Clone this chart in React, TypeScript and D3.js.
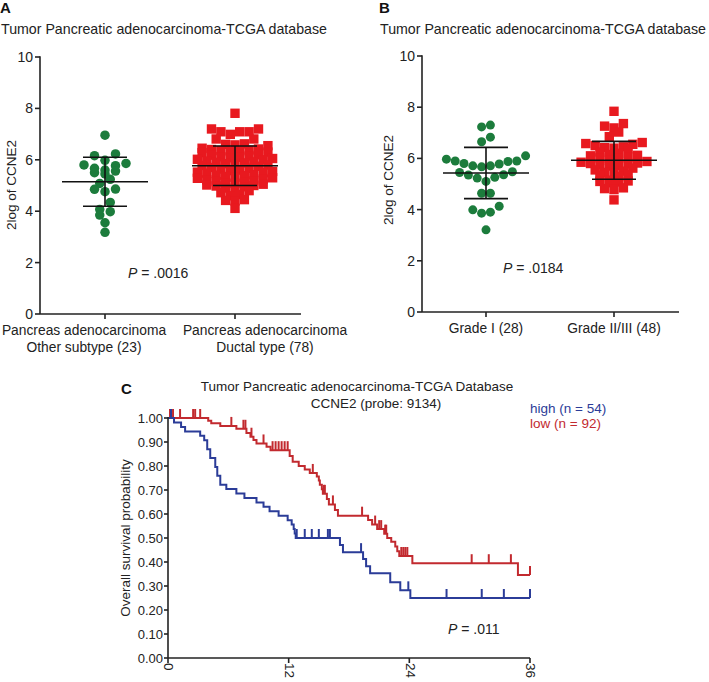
import React from 'react';
import * as d3 from 'd3';

const FONT = "'Liberation Sans', Arial, Helvetica, sans-serif";
const GREEN = '#1c7c3c';
const RED = '#e8191f';
const KM_BLUE = '#2b3c98';
const KM_RED = '#c22a2f';

// Panel A: CCNE2 by histological subtype
const aCategories = [
  ['Pancreas adenocarcinoma', 'Other subtype (23)'],
  ['Pancreas adenocarcinoma', 'Ductal type (78)'],
];
const aOtherSubtype = [
  6.96, 6.23, 6.16, 5.98, 5.80, 5.77, 5.86, 5.56, 5.45, 5.67, 5.50, 5.60,
  5.24, 5.08, 4.86, 4.76, 4.85, 4.34, 3.98, 4.07, 3.85, 3.55, 3.18,
];
const aDuctalType = [
  7.81, 7.20, 7.20, 7.09, 7.09, 7.09, 6.99, 6.81, 6.81, 6.62, 6.60, 6.58, 6.55,
  6.45, 6.42, 6.40, 6.38, 6.36, 6.34, 6.32, 6.30, 6.28,
  6.20, 6.18, 6.15, 6.12, 6.10, 6.08, 6.05, 6.02, 6.00,
  5.95, 5.92, 5.90, 5.88, 5.85, 5.82, 5.80, 5.78, 5.75,
  5.70, 5.67, 5.64, 5.60, 5.58, 5.55, 5.52, 5.50, 5.48,
  5.42, 5.40, 5.38, 5.35, 5.32, 5.30, 5.28, 5.25, 5.22,
  5.18, 5.15, 5.12, 5.10, 5.08, 5.05, 5.02, 5.00, 4.98,
  4.95, 4.90, 4.85, 4.80, 4.72, 4.65, 4.60, 4.45, 4.42, 4.40, 4.11,
];
const aPValue = '.0016';

// Panel B: CCNE2 by grade
const bCategories = ['Grade I (28)', 'Grade II/III (48)'];
const bGradeI = [
  7.30, 7.23, 6.83, 6.65,
  6.10, 5.97, 5.90, 5.90, 5.88, 5.80, 5.78, 5.71, 5.71, 5.67,
  5.48, 5.45, 5.36, 5.35, 5.26, 5.23, 5.10,
  4.64, 4.64, 4.13, 3.99, 3.90, 3.86, 3.21,
];
const bGradeII_III = [
  7.84, 7.36, 7.26, 7.19, 7.03, 6.85,
  6.62, 6.58, 6.55, 6.50, 6.45, 6.42, 6.40, 6.38,
  6.25, 6.20, 6.15, 6.12, 6.10, 6.05, 6.02, 6.00,
  5.92, 5.88, 5.85, 5.82, 5.80, 5.78, 5.75, 5.72, 5.70,
  5.62, 5.55, 5.50, 5.45, 5.42, 5.38, 5.35, 5.30,
  5.15, 5.12, 5.10, 5.08, 5.05, 4.85, 4.82, 4.78, 4.38,
];
const bPValue = '.0184';

const exprTicks = [0, 2, 4, 6, 8, 10];

// Panel C: Kaplan-Meier, [month, survival]
const kmHighEvents = [
  [0, 1], [0.6, 0.981], [1.3, 0.963], [1.7, 0.944], [3.2, 0.926], [3.6, 0.907],
  [3.9, 0.870], [4.2, 0.833], [4.7, 0.796], [4.9, 0.759], [5.2, 0.722], [5.8, 0.704],
  [6.8, 0.685], [7.6, 0.667], [8.8, 0.648], [9.5, 0.630], [10.1, 0.611], [11.0, 0.593],
  [11.9, 0.574], [12.3, 0.556], [12.5, 0.537], [12.6, 0.519], [12.7, 0.500],
  [17.1, 0.471], [17.4, 0.441], [19.4, 0.412], [19.7, 0.382], [20.1, 0.353],
  [22.1, 0.316], [23.1, 0.282], [24.1, 0.250], [36, 0.250],
];
const kmHighCensored = [
  [0.3, 1], [12.8, 0.5], [13.6, 0.5], [14.3, 0.5], [15.0, 0.5], [15.9, 0.5], [16.1, 0.5],
  [19.2, 0.441], [23.9, 0.282], [27.7, 0.25], [31.2, 0.25], [33.4, 0.25], [36, 0.25],
];
const kmLowEvents = [
  [0, 1], [4.0, 0.989], [4.3, 0.978], [5.2, 0.967], [6.8, 0.955], [7.8, 0.938],
  [8.2, 0.922], [8.5, 0.908], [8.8, 0.894], [9.8, 0.880], [10.2, 0.866], [12.1, 0.842],
  [12.4, 0.818], [13.0, 0.800], [13.6, 0.785], [14.1, 0.771], [14.8, 0.756], [15.0, 0.740],
  [15.1, 0.722], [15.3, 0.703], [15.4, 0.684], [15.8, 0.663], [16.0, 0.640], [16.6, 0.617],
  [16.9, 0.593], [19.9, 0.575], [20.3, 0.556], [20.8, 0.537], [21.5, 0.518], [21.8, 0.500],
  [22.2, 0.484], [22.6, 0.465], [22.8, 0.445], [23.0, 0.425], [24.3, 0.395], [34.8, 0.346],
  [36, 0.346],
];
const kmLowCensored = [
  [0.2, 1], [0.5, 1], [1.2, 1], [2.5, 1], [2.7, 1], [3.2, 1], [6.3, 0.967], [7.5, 0.955],
  [7.7, 0.955], [8.3, 0.922], [9.5, 0.894], [10.4, 0.866], [10.7, 0.866], [11.0, 0.866],
  [11.3, 0.866], [11.6, 0.866], [11.9, 0.866], [14.4, 0.771], [15.5, 0.684], [15.6, 0.684],
  [16.4, 0.640], [19.3, 0.593], [20.6, 0.556], [21.0, 0.537], [21.2, 0.537], [21.6, 0.518],
  [21.7, 0.518], [23.2, 0.425], [23.4, 0.425], [23.6, 0.425], [23.8, 0.425],
  [30.2, 0.395], [31.9, 0.395], [34.1, 0.395], [36, 0.346],
];
const survTicks = [0, 0.1, 0.2, 0.3, 0.4, 0.5, 0.6, 0.7, 0.8, 0.9, 1.0];
const monthTicks = [0, 12, 24, 36];
const kmLegend = [
  { label: 'high (n = 54)', color: KM_BLUE },
  { label: 'low (n = 92)', color: KM_RED },
];
const kmPValue = '.011';

// rows of near-equal values, lowest in the middle (GraphPad-like scatter)
function swarm(values: number[], bin: number) {
  const sorted = [...values].sort((a, b) => b - a);
  const rows: number[][] = [];
  let cur: number[] = [];
  for (const v of sorted) {
    if (cur.length && cur[0] - v >= bin) {
      rows.push(cur);
      cur = [];
    }
    cur.push(v);
  }
  if (cur.length) rows.push(cur);
  const out: { v: number; slot: number }[] = [];
  rows.forEach((row) => {
    const asc = [...row].sort((a, b) => a - b);
    const n = asc.length;
    const slots = d3.range(n).map((i) => i - (n - 1) / 2)
      .sort((a, b) => Math.abs(a) - Math.abs(b) || a - b);
    asc.forEach((v, i) => out.push({ v, slot: slots[i] }));
  });
  return out;
}

function PValue({ x, y, value }: { x: number; y: number; value: string }) {
  return (
    <text x={x} y={y} fontSize={14} fontFamily={FONT} fill="#222">
      <tspan fontStyle="italic">P</tspan> = {value}
    </text>
  );
}

type Group = { values: number[]; shape: 'circle' | 'square'; color: string; bin: number; spacing: number; size: number };

function DotPanel(props: {
  letter: string; letterX: number; titleX: number;
  axisX: number; axisEnd: number; y0: number; y10: number;
  groups: Group[]; labels: string[][]; labelX: number[];
  yLabelX: number; yLabelY: number; p: { x: number; y: number; value: string };
}) {
  const { axisX, axisEnd, y0, y10, groups } = props;
  const y = d3.scaleLinear().domain([0, 10]).range([y0, y10]);
  const x = d3.scalePoint<number>().domain(groups.map((_, i) => i)).range([axisX, axisEnd]).padding(0.5);
  return (
    <g fontFamily={FONT}>
      <text x={props.letterX} y={13} fontSize={15} fontWeight="bold" fill="#111">{props.letter}</text>
      <text x={props.titleX} y={34} fontSize={14.2} fill="#222">Tumor Pancreatic adenocarcinoma-TCGA database</text>
      <text transform={`translate(${props.yLabelX},${props.yLabelY}) rotate(-90)`} textAnchor="middle" fontSize={13.5} fill="#222">2log of CCNE2</text>
      {groups.map((g, gi) => {
        const cx = x(gi)!;
        const pts = swarm(g.values, g.bin);
        const mean = d3.mean(g.values)!;
        const sd = d3.deviation(g.values)!;
        return (
          <g key={gi}>
            {pts.map((p, i) => g.shape === 'circle'
              ? <circle key={i} cx={cx + p.slot * g.spacing} cy={y(p.v)} r={g.size / 2} fill={g.color} />
              : <rect key={i} x={cx + p.slot * g.spacing - g.size / 2} y={y(p.v) - g.size / 2} width={g.size} height={g.size} fill={g.color} />)}
            <g stroke="#111" strokeWidth={1.6}>
              <line x1={cx - 43} x2={cx + 43} y1={y(mean)} y2={y(mean)} />
              <line x1={cx - 22} x2={cx + 22} y1={y(mean + sd)} y2={y(mean + sd)} />
              <line x1={cx - 22} x2={cx + 22} y1={y(mean - sd)} y2={y(mean - sd)} />
              <line x1={cx} x2={cx} y1={y(mean + sd)} y2={y(mean - sd)} />
            </g>
          </g>
        );
      })}
      <g stroke="#222" strokeWidth={1.6}>
        <line x1={axisX} x2={axisX} y1={y(10) - 0.8} y2={y(0)} />
        <line x1={axisX} x2={axisEnd + 1} y1={y(0)} y2={y(0)} />
        {exprTicks.map((t) => <line key={t} x1={axisX - 5} x2={axisX} y1={y(t)} y2={y(t)} />)}
        {groups.map((_, i) => <line key={i} x1={x(i)} x2={x(i)} y1={y(0)} y2={y(0) + 5} />)}
      </g>
      {exprTicks.map((t) => (
        <text key={t} x={axisX - 7} y={y(t) + 5} textAnchor="end" fontSize={14} fill="#222">{t}</text>
      ))}
      {props.labels.map((lines, i) => lines.map((l, j) => (
        <text key={`${i}-${j}`} x={props.labelX[i]} y={y(0) + 21 + j * 17} textAnchor="middle" fontSize={13.8} fill="#222">{l}</text>
      )))}
      <PValue {...props.p} />
    </g>
  );
}

function KMPanel() {
  const x = d3.scaleLinear().domain([0, 36]).range([168, 530]);
  const y = d3.scaleLinear().domain([0, 1]).range([658, 418]);
  const line = d3.line<number[]>().x((d) => x(d[0])).y((d) => y(d[1])).curve(d3.curveStepAfter);
  const curves = [
    { ev: kmLowEvents, cens: kmLowCensored, color: KM_RED },
    { ev: kmHighEvents, cens: kmHighCensored, color: KM_BLUE },
  ];
  return (
    <g fontFamily={FONT}>
      <text x={121} y={394} fontSize={15} fontWeight="bold" fill="#111">C</text>
      <text x={357} y={391} textAnchor="middle" fontSize={13.5} fill="#222">Tumor Pancreatic adenocarcinoma-TCGA Database</text>
      <text x={376} y={408} textAnchor="middle" fontSize={13.5} fill="#222">CCNE2 (probe: 9134)</text>
      <text transform="translate(130,538) rotate(-90)" textAnchor="middle" fontSize={13.5} fill="#222">Overall survival probability</text>
      {curves.map((c, i) => (
        <g key={i} stroke={c.color} strokeWidth={2} fill="none">
          <path d={line(c.ev) ?? ''} />
          {c.cens.map((d, j) => <line key={j} x1={x(d[0])} x2={x(d[0])} y1={y(d[1])} y2={y(d[1]) - 9} />)}
        </g>
      ))}
      <g stroke="#222" strokeWidth={1.6}>
        <line x1={x(0)} x2={x(0)} y1={y(1) - 1} y2={y(0)} />
        <line x1={x(0)} x2={x(36)} y1={y(0)} y2={y(0)} />
        {survTicks.map((t) => <line key={t} x1={x(0) - 4} x2={x(0)} y1={y(t)} y2={y(t)} />)}
        {monthTicks.map((t) => <line key={t} x1={x(t)} x2={x(t)} y1={y(0)} y2={y(0) + 5} />)}
      </g>
      {survTicks.map((t) => (
        <text key={t} x={x(0) - 5} y={y(t) + 5} textAnchor="end" fontSize={13} fill="#222">{t.toFixed(2)}</text>
      ))}
      {monthTicks.map((t) => (
        <text key={t} transform={`translate(${x(t)},${y(0) + 5}) rotate(90)`} dominantBaseline="middle" fontSize={13.5} fill="#222">{t}</text>
      ))}
      {kmLegend.map((l, i) => (
        <text key={l.label} x={530} y={413 + i * 15} fontSize={13.5} fill={l.color}>{l.label}</text>
      ))}
      <PValue x={448} y={634} value={kmPValue} />
    </g>
  );
}

export default function App() {
  return (
    <svg width={709} height={682} style={{ position: 'absolute', left: 0, top: 0, background: '#fff' }}>
      <rect width={709} height={682} fill="#fff" />
      <DotPanel
        letter="A" letterX={0} titleX={1}
        axisX={40} axisEnd={300} y0={314} y10={57}
        groups={[
          { values: aOtherSubtype, shape: 'circle', color: GREEN, bin: 0.3, spacing: 10.5, size: 9.5 },
          { values: aDuctalType, shape: 'square', color: RED, bin: 0.24, spacing: 9.4, size: 9.4 },
        ]}
        labels={aCategories} labelX={[84, 265]}
        yLabelX={16} yLabelY={185}
        p={{ x: 128, y: 278, value: aPValue }}
      />
      <DotPanel
        letter="B" letterX={379} titleX={380}
        axisX={422} axisEnd={678} y0={312} y10={56}
        groups={[
          { values: bGradeI, shape: 'circle', color: GREEN, bin: 0.45, spacing: 8.8, size: 9 },
          { values: bGradeII_III, shape: 'square', color: RED, bin: 0.24, spacing: 9.4, size: 9.4 },
        ]}
        labels={bCategories.map((c) => [c])} labelX={[486, 614]}
        yLabelX={393} yLabelY={180}
        p={{ x: 503, y: 273, value: bPValue }}
      />
      <KMPanel />
    </svg>
  );
}
